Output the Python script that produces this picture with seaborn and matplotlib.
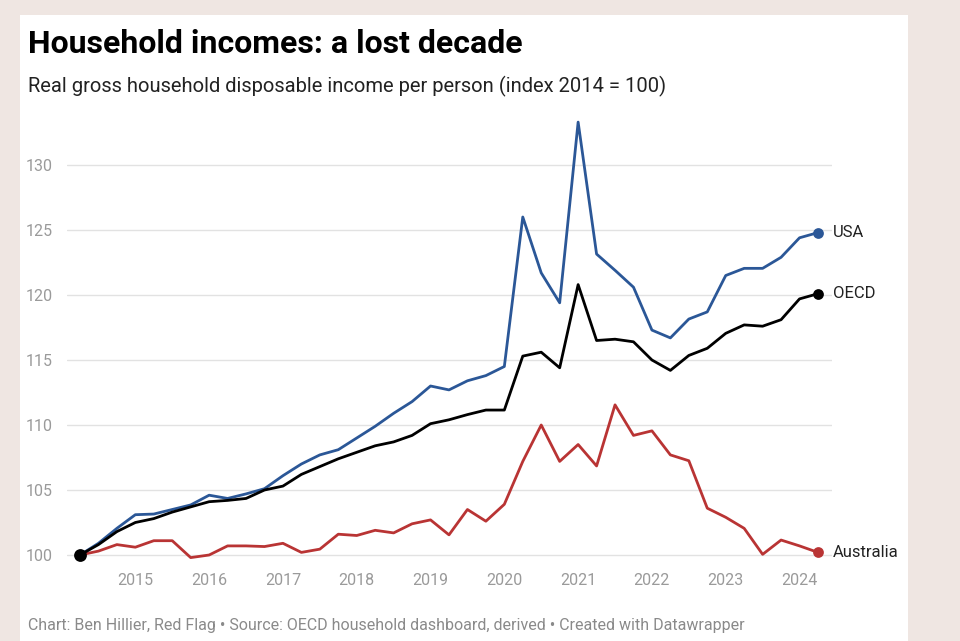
import numpy as np
import pandas as pd
import matplotlib.pyplot as plt
import matplotlib.patches as mpatches
import seaborn as sns

sns.set_theme(style='white')
plt.rcParams['font.family'] = ['Roboto', 'DejaVu Sans']

# quarterly data, 2014 Q2 to 2024 Q2
quarters = pd.period_range('2014Q2', '2024Q2', freq='Q')
usa = [100, 100.9, 102.05, 103.1, 103.15, 103.5, 103.85, 104.6, 104.35, 104.7,
       105.1, 106.1, 107.0, 107.7, 108.1, 109.0, 109.9, 110.9, 111.8, 113.0,
       112.7, 113.4, 113.8, 114.5, 126.0, 121.7, 119.4, 133.3, 123.15, 121.9,
       120.6, 117.3, 116.7, 118.15, 118.7, 121.5, 122.05, 122.05, 122.9, 124.4,
       124.8]
oecd = [100, 100.8, 101.8, 102.5, 102.8, 103.3, 103.7, 104.1, 104.2, 104.35,
        105.0, 105.3, 106.2, 106.8, 107.4, 107.9, 108.4, 108.7, 109.2, 110.1,
        110.4, 110.8, 111.15, 111.15, 115.3, 115.6, 114.4, 120.8, 116.5, 116.6,
        116.4, 115.0, 114.2, 115.35, 115.9, 117.05, 117.7, 117.6, 118.1, 119.7,
        120.1]
australia = [100, 100.3, 100.8, 100.6, 101.1, 101.1, 99.8, 100.0, 100.7, 100.7,
             100.65, 100.9, 100.2, 100.45, 101.6, 101.5, 101.9, 101.7, 102.4, 102.7,
             101.55, 103.5, 102.6, 103.9, 107.2, 110.0, 107.2, 108.5, 106.85, 111.55,
             109.2, 109.55, 107.7, 107.25, 103.6, 102.9, 102.05, 100.05, 101.15, 100.7,
             100.2]
year_ticks = list(range(2015, 2025))
y_ticks = [100, 105, 110, 115, 120, 125, 130]

colors = {'USA': '#2b5797', 'OECD': '#000000', 'Australia': '#b93434'}

x = quarters.year + (quarters.quarter - 1) / 4
df = pd.DataFrame({'date': np.tile(x, 3),
                   'value': usa + oecd + australia,
                   'country': ['USA'] * len(x) + ['OECD'] * len(x) + ['Australia'] * len(x)})

fig = plt.figure(figsize=(9.6, 6.41), dpi=100)
fig.patch.set_facecolor('#efe6e2')
fig.patches.append(mpatches.Rectangle((20 / 960, 0), 888 / 960, 626 / 641,
                                      transform=fig.transFigure, facecolor='white',
                                      edgecolor='none', zorder=-10))

ax = fig.add_axes([67 / 960, 1 - 561.5 / 641, 765 / 960, (561.5 - 113) / 641])
ax.set_facecolor('none')
sns.lineplot(data=df, x='date', y='value', hue='country', palette=colors,
             hue_order=['Australia', 'USA', 'OECD'], linewidth=2.0, legend=False, ax=ax)

# end dots and labels
for name, vals in [('USA', usa), ('OECD', oecd), ('Australia', australia)]:
    ax.scatter(x[-1], vals[-1], s=60, color=colors[name], zorder=5, linewidths=0)
    ax.text(x[-1] + 0.2, vals[-1], name, fontsize=12, color='#222222', va='center', ha='left')
ax.scatter(x[0], oecd[0], s=85, color='black', zorder=6, linewidths=0)

ax.set_xlim(2014.074, 2024.44)
ax.set_ylim(99.5, 134)
ax.set_xticks(year_ticks)
ax.set_xticklabels([str(y) for y in year_ticks])
ax.set_yticks(y_ticks)
ax.set_yticklabels([str(v) for v in y_ticks])
ax.tick_params(axis='both', length=0, labelsize=11.5, labelcolor='#9a9a9a')
ax.tick_params(axis='y', pad=10)
ax.tick_params(axis='x', pad=8)
ax.yaxis.grid(True, color='#e2e2e2', linewidth=1)
ax.xaxis.grid(False)
ax.set_axisbelow(True)
for s in ax.spines.values():
    s.set_visible(False)
ax.set_xlabel('')
ax.set_ylabel('')

fig.text(28 / 960, 1 - 53 / 641, 'Household incomes: a lost decade', fontsize=23,
         fontweight='bold', color='black', ha='left', va='baseline')
fig.text(28 / 960, 1 - 92 / 641,
         'Real gross household disposable income per person (index 2014 = 100)',
         fontsize=14.5, color='#222222', ha='left', va='baseline')
fig.text(28 / 960, 1 - 630 / 641,
         'Chart: Ben Hillier, Red Flag \u2022 Source: OECD household dashboard, derived \u2022 Created with Datawrapper',
         fontsize=11.5, color='#8a8a8a', ha='left', va='baseline')

fig.savefig('out.png', dpi=100)
